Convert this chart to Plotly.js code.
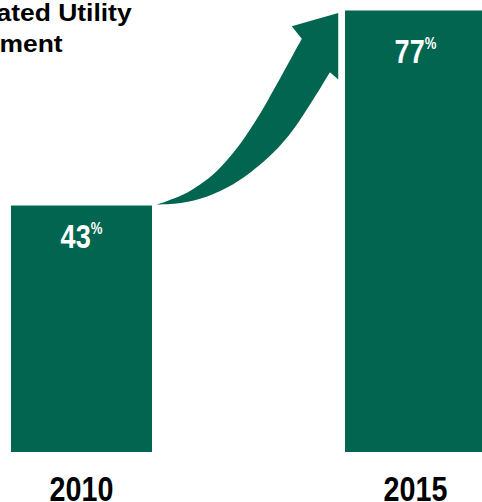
<!DOCTYPE html>
<html><head><meta charset="utf-8">
<script src="https://cdn.plot.ly/plotly-3.0.1.min.js"></script>
<style>html,body{margin:0;padding:0;background:#fff;overflow:hidden}#chart{width:482px;height:502px}</style>
</head><body><div id="chart"></div>
<script>
// ---- data ----
const categories = ['2010', '2015'];
const values = [43, 77];
const valueLabels = ['43', '77'];
const titleLines = ['Regulated Utility', 'Investment'];

// ---- layout constants ----
const GREEN = '#02654F';
const W = 482, H = 502, MB = 50;
const plotH = H - MB;
const pxPerUnitY = 5.733;
const yMax = plotH / pxPerUnitY;
const pxPerCat = 334;
const firstCenterPx = 81.5;
const xMin = -firstCenterPx / pxPerCat;
const xMax = (W - firstCenterPx) / pxPerCat;
const barWidth = 141 / pxPerCat;
const xs = categories.map((c, i) => i);
const SANS = 'Liberation Sans, Arial, Helvetica, sans-serif';
const CONDENSE = 0.82;
const TITLE_STRETCH = 1.15;
const TITLE_SIZE = 23;

// ---- arrow outline as fractions between the two bar tops ----
const upperEdge = [[0.024,0.005],[0.076,0.022],[0.162,0.056],[0.249,0.108],[0.335,0.176],[0.421,0.270],[0.508,0.390],[0.603,0.544],[0.776,0.855]];
const headPts = [[0.724,0.919],[0.965,0.988],[0.965,0.646],[0.922,0.684]];
const lowerEdge = [[0.922,0.684],[0.835,0.544],[0.732,0.390],[0.628,0.270],[0.508,0.168],[0.387,0.091],[0.249,0.034],[0.128,0.010],[0.024,0.005]];

const xa = xs[0] + barWidth / 2, xb = xs[1] - barWidth / 2;
const ya = values[0], yb = values[1];
const toData = p => [xa + p[0] * (xb - xa), ya + p[1] * (yb - ya)];

function catmull(pts) {
  let s = '';
  for (let i = 0; i < pts.length - 1; i++) {
    const p0 = pts[Math.max(i - 1, 0)], p1 = pts[i], p2 = pts[i + 1], p3 = pts[Math.min(i + 2, pts.length - 1)];
    const c1 = [p1[0] + (p2[0] - p0[0]) / 6, p1[1] + (p2[1] - p0[1]) / 6];
    const c2 = [p2[0] - (p3[0] - p1[0]) / 6, p2[1] - (p3[1] - p1[1]) / 6];
    s += ` C ${c1[0]},${c1[1]} ${c2[0]},${c2[1]} ${p2[0]},${p2[1]}`;
  }
  return s;
}
const U = upperEdge.map(toData), Hd = headPts.map(toData), Lo = lowerEdge.map(toData);
let path = `M ${U[0][0]},${U[0][1]}` + catmull(U);
Hd.forEach(p => { path += ` L ${p[0]},${p[1]}`; });
path += catmull(Lo) + ' Z';

const labelShift = [-11, -20];
const titleLeftPx = -79;

const annotations = [];
annotations.push({xref: 'paper', yref: 'paper', x: titleLeftPx / W, y: 1 + 2 / plotH, xanchor: 'left', yanchor: 'top',
  text: titleLines[0], showarrow: false, font: {family: SANS, size: TITLE_SIZE, color: '#000', weight: 700}});
annotations.push({xref: 'paper', yref: 'paper', x: titleLeftPx / W, y: 1 - 29.5 / plotH, xanchor: 'left', yanchor: 'top',
  text: titleLines[1], showarrow: false, font: {family: SANS, size: TITLE_SIZE, color: '#000', weight: 700}});
values.forEach((v, i) => {
  annotations.push({x: xs[i], y: v, xref: 'x', yref: 'y', xanchor: 'center', yanchor: 'top', yshift: labelShift[i],
    text: valueLabels[i] + '<sup><span style="font-size:16px">%</span></sup>', showarrow: false,
    font: {family: SANS, size: 33, color: '#fff', weight: 700}});
});

const trace = {type: 'bar', x: xs, y: values, width: barWidth, marker: {color: GREEN}, hoverinfo: 'skip', showlegend: false};

const layout = {
  width: W, height: H, margin: {l: 0, r: 0, t: 0, b: MB},
  paper_bgcolor: '#fff', plot_bgcolor: '#fff',
  xaxis: {range: [xMin, xMax], tickvals: xs, ticktext: categories, showgrid: false, zeroline: false, showline: false, ticks: '',
    ticklabelstandoff: 13,
    tickfont: {family: SANS, size: 35, color: '#000', weight: 700}, fixedrange: true},
  yaxis: {range: [0, yMax], visible: false, fixedrange: true},
  shapes: [{type: 'path', xref: 'x', yref: 'y', path: path, fillcolor: GREEN, line: {width: 0}, layer: 'above'}],
  annotations: annotations
};

function scaleX(el, k, origin) {
  const b = el.getBBox();
  const cx = origin === 'left' ? b.x : b.x + b.width / 2;
  const t = el.getAttribute('transform') || '';
  el.setAttribute('transform', `${t} translate(${cx},0) scale(${k},1) translate(${-cx},0)`);
}
Plotly.newPlot('chart', [trace], layout, {displayModeBar: false, staticPlot: true}).then(gd => {
  gd.querySelectorAll('.xtick text').forEach(el => scaleX(el, CONDENSE, 'center'));
  const anns = gd.querySelectorAll('.annotation');
  [0, 1].forEach(i => { const t = anns[i] && anns[i].querySelector('text'); if (t) scaleX(t, TITLE_STRETCH, 'left'); });
  [2, 3].forEach(i => { const t = anns[i] && anns[i].querySelector('text'); if (t) scaleX(t, CONDENSE, 'center'); });
});
</script></body></html>
